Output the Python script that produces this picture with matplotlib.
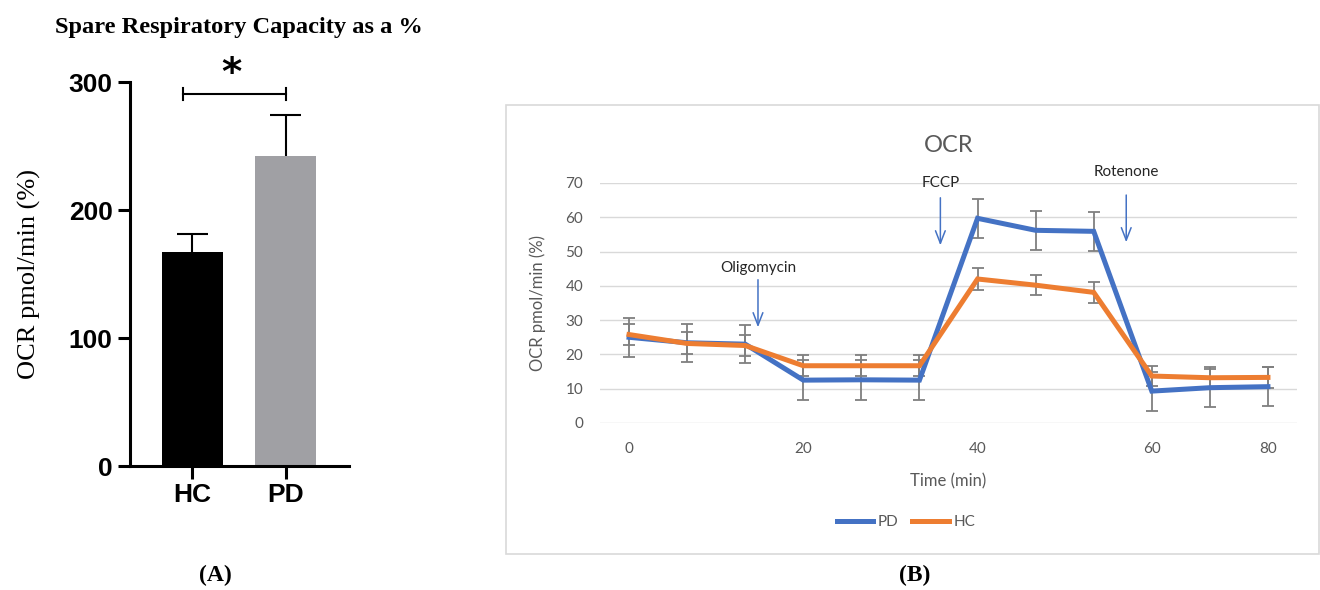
import matplotlib
matplotlib.use("Agg")
import matplotlib.pyplot as plt
from matplotlib.patches import Rectangle

# Panel A: spare respiratory capacity
groups = ["HC", "PD"]
capacity = [167, 242]
capacity_err = [14, 32]

# Panel B: OCR time course (12 measurements)
time_labels = ["0", "20", "40", "60", "80"]
time_label_idx = [0, 3, 6, 9, 11]
pd_ocr = [25.0, 23.4, 23.0, 12.5, 12.6, 12.5, 59.7, 56.2, 55.9, 9.3, 10.3, 10.6]
pd_err = [5.7, 5.6, 5.6, 5.8, 5.8, 5.8, 5.7, 5.7, 5.7, 5.7, 5.5, 5.6]
hc_ocr = [25.8, 23.2, 22.6, 16.7, 16.7, 16.7, 42.0, 40.2, 38.1, 13.7, 13.2, 13.3]
hc_err = [3.0, 3.2, 3.0, 3.0, 3.0, 3.0, 3.2, 3.0, 3.1, 3.0, 3.0, 3.0]

injections = ["Oligomycin", "FCCP", "Rotenone"]
inj_x = [2.22, 5.36, 8.56]
inj_text_y = [45.2, 70.0, 73.2]
inj_arrow_top = [42.6, 66.5, 67.3]
inj_arrow_bottom = [27.1, 51.0, 51.9]

W, H = 1320, 590
fig = plt.figure(figsize=(W / 100, H / 100), dpi=100)


def fx(px):
    return px / W


def fy(py):
    return 1 - py / H


# ---------------- Panel A ----------------
serif = ["Liberation Serif", "DejaVu Serif"]
narrow = ["Liberation Sans Narrow", "Liberation Sans", "DejaVu Sans"]

axA = fig.add_axes([fx(130), fy(466), fx(349 - 130), (466 - 82) / H])
x = list(range(len(groups)))
axA.bar(x, capacity, width=0.66, color=["black", "#a0a0a4"], zorder=2)
# one-sided (upper) error bars
tops = [c + e for c, e in zip(capacity, capacity_err)]
axA.vlines(x, capacity, tops, color="black", lw=1.5, zorder=1)
axA.hlines(tops, [i - 0.17 for i in x], [i + 0.17 for i in x],
           color="black", lw=1.5, zorder=1)
axA.set_xlim(-0.67, 1.68)
axA.set_ylim(0, 300)
axA.set_yticks([0, 100, 200, 300])
axA.set_xticks(x)
axA.set_xticklabels(groups)
for s in ["top", "right"]:
    axA.spines[s].set_visible(False)
for s in ["left", "bottom"]:
    axA.spines[s].set_linewidth(2.2)
axA.tick_params(axis="both", width=2.2, length=9, labelsize=19)
for lab in axA.get_xticklabels() + axA.get_yticklabels():
    lab.set_family(narrow)
    lab.set_fontweight("bold")
axA.set_ylabel("OCR pmol/min (%)", family=serif, fontsize=19, labelpad=20)

# significance bracket
axA.plot([-0.1, 1.0], [290.6, 290.6], color="black", lw=1.5, clip_on=False)
for bx in [-0.1, 1.0]:
    axA.plot([bx, bx], [286, 295.5], color="black", lw=1.5, clip_on=False)
axA.text(0.42, 306, "*", ha="center", va="center", fontsize=28,
         fontweight="bold", clip_on=False)

fig.text(fx(239), fy(28), "Spare Respiratory Capacity as a %", ha="center",
         va="center", family=serif, fontweight="bold", fontsize=17.6)
fig.text(fx(215), fy(575), "(A)", ha="center", va="center", family=serif,
         fontweight="bold", fontsize=17)

# ---------------- Panel B ----------------
sans = ["Lato", "DejaVu Sans"]
grey = "#595959"

fig.patches.append(Rectangle((fx(505.7), fy(553.7)), fx(1319 - 505.7),
                             (553.7 - 105.3) / H, transform=fig.transFigure,
                             fill=False, edgecolor="#d9d9d9", lw=1.2))

axB = fig.add_axes([fx(600), fy(423), fx(1297 - 600), 240 / H])
idx = list(range(len(pd_ocr)))
axB.errorbar(idx, pd_ocr, yerr=pd_err, fmt="none", ecolor="#7f7f7f",
             elinewidth=1.3, capsize=4, capthick=1.3, zorder=2)
axB.errorbar(idx, hc_ocr, yerr=hc_err, fmt="none", ecolor="#7f7f7f",
             elinewidth=1.3, capsize=4, capthick=1.3, zorder=2)
axB.plot(idx, pd_ocr, color="#4472c4", lw=3.6, label="PD", zorder=3,
         solid_joinstyle="miter")
axB.plot(idx, hc_ocr, color="#ed7d31", lw=3.6, label="HC", zorder=4,
         solid_joinstyle="miter")
axB.set_xlim(-0.5, 11.5)
axB.set_ylim(0, 70)
axB.set_yticks(range(0, 71, 10))
axB.set_xticks(time_label_idx)
axB.set_xticklabels(time_labels)
axB.grid(axis="y", color="#d9d9d9", lw=1)
axB.set_axisbelow(True)
for s in axB.spines.values():
    s.set_visible(False)
axB.tick_params(axis="both", length=0, labelsize=11, labelcolor=grey, pad=14)
axB.tick_params(axis="y", pad=12)
for lab in axB.get_xticklabels() + axB.get_yticklabels():
    lab.set_family(sans)
axB.set_xlabel("Time (min)", family=sans, fontsize=12, color=grey, labelpad=12)
axB.set_ylabel("OCR pmol/min (%)", family=sans, fontsize=12, color=grey,
               labelpad=14)
axB.set_title("OCR", family=sans, fontsize=17, color=grey, pad=22)

for name, ix, ty, at, ab in zip(injections, inj_x, inj_text_y, inj_arrow_top,
                                inj_arrow_bottom):
    axB.annotate("", xy=(ix, ab), xytext=(ix, at),
                 arrowprops=dict(arrowstyle="->,head_length=0.9,head_width=0.35",
                                 color="#4472c4", lw=1.1))
    axB.text(ix, ty, name, ha="center", va="center", family=sans, fontsize=11,
             color="#262626", clip_on=False)

axB.legend(loc="center", bbox_to_anchor=(fx(906 - 600) / fx(1297 - 600),
                                          -(522 - 423) / 240),
           ncol=2, frameon=False, handlelength=2.4, handletextpad=0.3,
           columnspacing=0.9, prop={"family": sans, "size": 11},
           labelcolor=grey)

fig.text(fx(915), fy(575), "(B)", ha="center", va="center", family=serif,
         fontweight="bold", fontsize=17)

fig.savefig("out.png", dpi=100, facecolor="white")
